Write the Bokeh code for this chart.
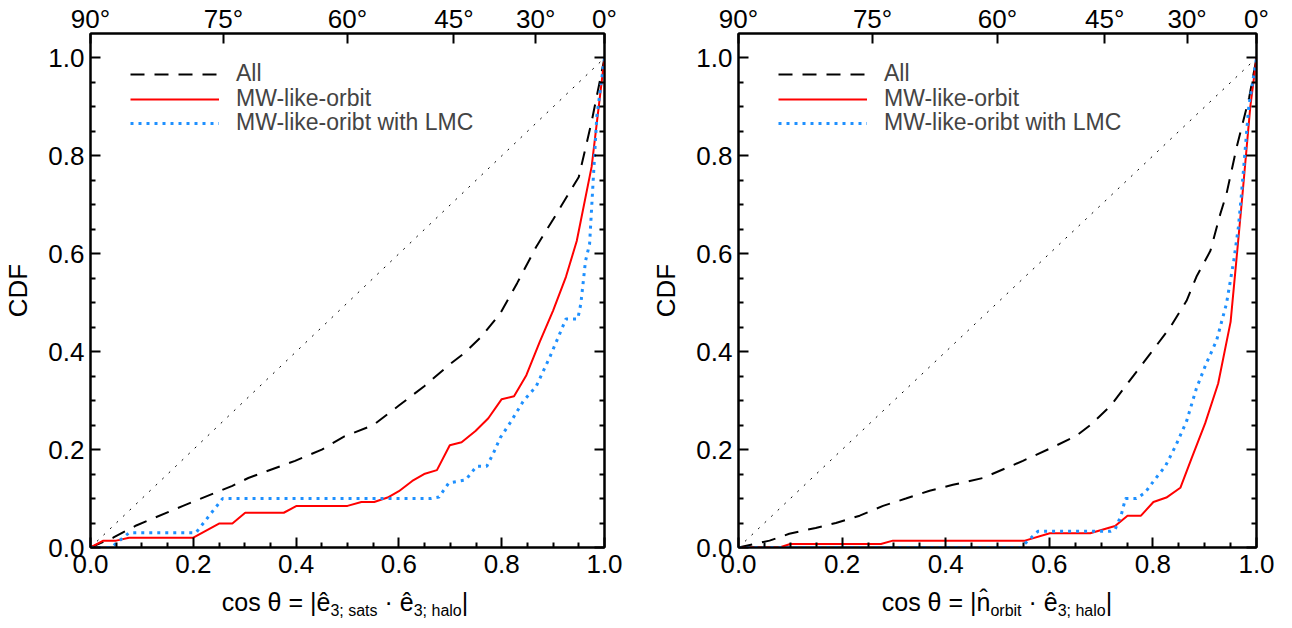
import numpy as np
from bokeh.plotting import figure
from bokeh.models import (LinearAxis, FixedTicker, Range1d, PrintfTickFormatter,
                          CustomJSTickFormatter, Legend, LegendItem, Div)
from bokeh.layouts import row, column
from bokeh.embed import file_html
from bokeh.resources import INLINE

# ---------------- data ----------------
left_all_x = [0.0, 0.044, 0.089, 0.18, 0.276, 0.307, 0.398, 0.45, 0.494, 0.55, 0.6, 0.65, 0.7, 0.726,
              0.76, 0.797, 0.83, 0.867, 0.9, 0.95, 0.975, 1.0]
left_all_y = [0.0, 0.02, 0.045, 0.085, 0.126, 0.142, 0.177, 0.2, 0.227, 0.25, 0.29, 0.33, 0.375, 0.396,
              0.43, 0.478, 0.54, 0.614, 0.67, 0.757, 0.87, 1.0]

left_mw_x = [0.0, 0.025, 0.05, 0.075, 0.2, 0.25, 0.276, 0.301, 0.376, 0.401, 0.5, 0.527, 0.552, 0.578,
             0.6, 0.626, 0.649, 0.674, 0.699, 0.722, 0.749, 0.774, 0.8, 0.824, 0.848, 0.874, 0.9, 0.925,
             0.946, 0.975, 1.0]
left_mw_y = [0.0, 0.014, 0.014, 0.02, 0.02, 0.049, 0.049, 0.071, 0.071, 0.085, 0.085, 0.093, 0.093, 0.102,
             0.115, 0.136, 0.15, 0.158, 0.209, 0.215, 0.238, 0.264, 0.303, 0.309, 0.352, 0.42, 0.484, 0.553,
             0.626, 0.778, 1.0]

left_lmc_x = [0.0, 0.04, 0.075, 0.205, 0.257, 0.662, 0.678, 0.697, 0.73, 0.751, 0.771, 0.784, 0.797,
              0.816, 0.842, 0.867, 0.894, 0.913, 0.925, 0.948, 0.954, 0.963, 0.971, 0.985, 1.0]
left_lmc_y = [0.0, 0.0, 0.03, 0.03, 0.1, 0.1, 0.103, 0.132, 0.138, 0.166, 0.166, 0.193, 0.224,
              0.254, 0.299, 0.329, 0.39, 0.437, 0.467, 0.467, 0.498, 0.585, 0.62, 0.88, 1.0]

right_all_x = [0.0, 0.06, 0.098, 0.149, 0.188, 0.234, 0.279, 0.323, 0.369, 0.414, 0.472, 0.549, 0.601,
               0.652, 0.679, 0.718, 0.756, 0.795, 0.834, 0.865, 0.884, 0.911, 0.93, 0.942, 0.962, 0.986, 1.0]
right_all_y = [0.0, 0.014, 0.028, 0.04, 0.05, 0.065, 0.085, 0.1, 0.116, 0.128, 0.142, 0.177, 0.202,
               0.228, 0.25, 0.289, 0.342, 0.396, 0.451, 0.504, 0.553, 0.606, 0.681, 0.722, 0.819, 0.92, 1.0]

right_mw_x = [0.0, 0.079, 0.1, 0.275, 0.298, 0.553, 0.601, 0.679, 0.727, 0.751, 0.777, 0.801, 0.826,
              0.853, 0.875, 0.901, 0.926, 0.95, 0.961, 0.973, 0.988, 1.0]
right_mw_y = [0.0, 0.0, 0.007, 0.007, 0.014, 0.014, 0.029, 0.029, 0.044, 0.065, 0.065, 0.093, 0.102,
              0.122, 0.183, 0.254, 0.335, 0.461, 0.585, 0.722, 0.9, 1.0]

right_lmc_x = [0.0, 0.545, 0.555, 0.578, 0.718, 0.727, 0.739, 0.747, 0.768, 0.785, 0.803, 0.824, 0.845,
               0.865, 0.884, 0.903, 0.923, 0.942, 0.956, 0.965, 0.971, 0.985, 1.0]
right_lmc_y = [0.0, 0.0, 0.01, 0.033, 0.033, 0.037, 0.067, 0.1, 0.1, 0.112, 0.138, 0.166, 0.21,
               0.258, 0.325, 0.376, 0.423, 0.498, 0.585, 0.654, 0.722, 0.9, 1.0]

diag_x = [0.0, 1.0]
diag_y = [0.0, 1.0]

angle_ticks_deg = [90, 75, 60, 45, 30, 0]
x_major_ticks = [0.0, 0.2, 0.4, 0.6, 0.8, 1.0]
x_minor_ticks = [0.05, 0.1, 0.15, 0.25, 0.3, 0.35, 0.45, 0.5, 0.55, 0.65, 0.7, 0.75, 0.85, 0.9, 0.95]
y_major_ticks = [0.0, 0.2, 0.4, 0.6, 0.8, 1.0]
y_minor_ticks = [0.05, 0.1, 0.15, 0.25, 0.3, 0.35, 0.45, 0.5, 0.55, 0.65, 0.7, 0.75, 0.85, 0.9, 0.95]

legend_labels = ["All", "MW-like-orbit", "MW-like-oribt with LMC"]
y_label = "CDF"
left_xtitle = [("cos θ = |ê", False), ("3; sats", True), (" · ê", False), ("3; halo", True), ("|", False)]
right_xtitle = [("cos θ = |n\u0302", False), ("orbit", True), (" · ê", False), ("3; halo", True), ("|", False)]

# ---------------- style ----------------
FONT = "Liberation Sans"
FS = 26
LEG_FS = 23
TITLE_FS = 25
SUB_FS = 16
BLUE = "#1E90FF"
FRAME_W = 518
FRAME_H = 517
TOP_B = 30
BOT_B = 40
MAIN_H = TOP_B + FRAME_H + BOT_B
TITLE_H = 31
LEGEND_X = 40
LEGEND_Y = [460, 435, 411]


def make_panel(all_x, all_y, mw_x, mw_y, lmc_x, lmc_y, left_border, right_border):
    p = figure(width=left_border + FRAME_W + right_border, height=MAIN_H,
               x_range=Range1d(0, 1), y_range=Range1d(0, 1.05),
               output_backend="svg", toolbar_location=None,
               min_border_left=left_border, min_border_right=right_border,
               min_border_top=TOP_B, min_border_bottom=BOT_B)
    p.background_fill_color = "white"
    p.border_fill_color = "white"
    p.outline_line_color = "black"
    p.outline_line_width = 2
    p.xgrid.visible = False
    p.ygrid.visible = False

    p.line(diag_x, diag_y, line_color="black", line_width=1, line_dash="2 7")
    r_all = p.line(all_x, all_y, line_color="black", line_width=2, line_dash="14 10")
    r_mw = p.line(mw_x, mw_y, line_color="red", line_width=2)
    r_lmc = p.line(lmc_x, lmc_y, line_color=BLUE, line_width=3, line_dash="3 5")

    xa = p.xaxis[0]
    xa.ticker = FixedTicker(ticks=x_major_ticks, minor_ticks=x_minor_ticks)
    xa.formatter = PrintfTickFormatter(format="%.1f")
    ya = p.yaxis[0]
    ya.ticker = FixedTicker(ticks=y_major_ticks, minor_ticks=y_minor_ticks)
    ya.formatter = PrintfTickFormatter(format="%.1f")
    ya.axis_label = y_label
    ya.axis_label_standoff = 12
    ya.axis_label_text_font = FONT
    ya.axis_label_text_font_size = f"{FS}px"
    ya.axis_label_text_font_style = "normal"
    ya.axis_label_text_color = "black"

    ta = LinearAxis(ticker=FixedTicker(ticks=[float(np.cos(np.radians(d))) for d in angle_ticks_deg],
                                       minor_ticks=[]),
                    formatter=CustomJSTickFormatter(
                        code="return Math.round(Math.acos(Math.min(1, Math.max(0, tick))) * 180 / Math.PI) + '°';"))
    p.add_layout(ta, "above")
    ra = LinearAxis(ticker=FixedTicker(ticks=y_major_ticks, minor_ticks=y_minor_ticks),
                    formatter=CustomJSTickFormatter(code="return '';"))
    p.add_layout(ra, "right")

    for ax in [xa, ya, ta, ra]:
        ax.axis_line_color = "black"
        ax.axis_line_width = 2
        ax.major_tick_in = 10
        ax.major_tick_out = 0
        ax.minor_tick_in = 5
        ax.minor_tick_out = 0
        ax.major_tick_line_width = 2
        ax.minor_tick_line_width = 2
        ax.major_tick_line_color = "black"
        ax.minor_tick_line_color = "black"
        ax.major_label_text_font = FONT
        ax.major_label_text_font_size = f"{FS}px"
        ax.major_label_text_color = "black"
    xa.major_label_standoff = 7
    ya.major_label_standoff = 6
    ta.major_label_standoff = 0
    ra.major_label_standoff = 0

    for lab, rend, vy in zip(legend_labels, [r_all, r_mw, r_lmc], LEGEND_Y):
        leg = Legend(items=[LegendItem(label=lab, renderers=[rend])],
                     location=(LEGEND_X, vy), padding=0, margin=0, spacing=0,
                     glyph_width=89, glyph_height=24, label_height=24, label_standoff=17,
                     label_text_font=FONT, label_text_font_size=f"{LEG_FS}px",
                     background_fill_alpha=0, border_line_alpha=0)
        p.add_layout(leg)
    return p


def make_title(pieces, left_border, right_border):
    w = left_border + FRAME_W + right_border
    shift = left_border - right_border
    html = ""
    for s, sub in pieces:
        if sub:
            html += f'<span style="font-size:{SUB_FS}px; position:relative; top:5px;">{s}</span>'
        else:
            html += f'<span>{s}</span>'
    inner = (f'<div style="margin-left:{shift}px; width:{w - shift}px; padding-top:2px; '
             f'text-align:center; font-family:\'{FONT}\'; font-size:{TITLE_FS}px; line-height:26px; '
             f'color:black; white-space:nowrap;">{html}</div>')
    return Div(text=inner, width=w, height=TITLE_H,
               styles={"margin": "0px", "padding": "0px", "overflow": "visible"})


L1, R1 = 86, 40
L2, R2 = 94, 20
p1 = make_panel(left_all_x, left_all_y, left_mw_x, left_mw_y, left_lmc_x, left_lmc_y, L1, R1)
p2 = make_panel(right_all_x, right_all_y, right_mw_x, right_mw_y, right_lmc_x, right_lmc_y, L2, R2)
t1 = make_title(left_xtitle, L1, R1)
t2 = make_title(right_xtitle, L2, R2)

layout = row(column(p1, t1), column(p2, t2))
open("out.html", "w").write(file_html(layout, INLINE))
